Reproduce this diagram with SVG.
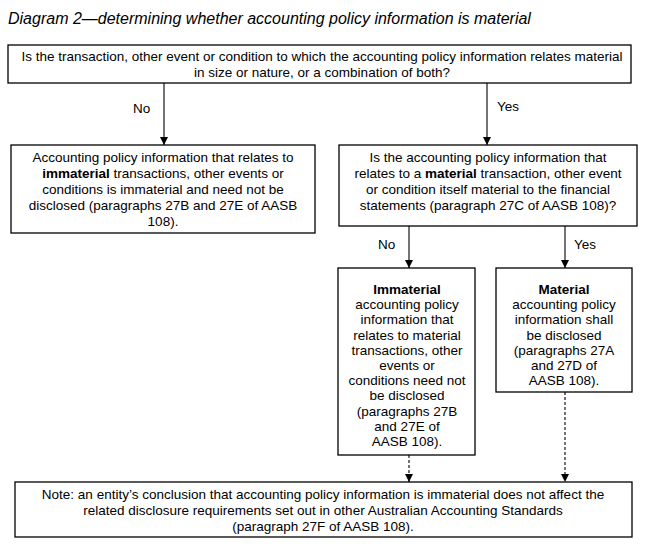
<svg xmlns="http://www.w3.org/2000/svg" width="654" height="544" viewBox="0 0 654 544">
<defs>
<style>
text{font-family:"Liberation Sans",Arial,sans-serif;font-size:13.5px;fill:#000}
.c{text-anchor:middle}
.b{font-weight:bold}
.title{font-size:16px;font-style:italic}
.box{fill:#fff;stroke:#000;stroke-width:1.3}
.ln{stroke:#000;stroke-width:1.1;fill:none}
.dl{stroke:#000;stroke-width:1.1;fill:none;stroke-dasharray:3 2}
</style>
<marker id="ah" viewBox="0 0 10 10" refX="10" refY="5" markerWidth="8" markerHeight="9" markerUnits="userSpaceOnUse" orient="auto">
<path d="M0,0 L10,5 L0,10 z" fill="#000"/>
</marker>
</defs>
<rect width="654" height="544" fill="#fff"/>
<text x="8" y="24" class="title">Diagram 2—determining whether accounting policy information is material</text>

<g id="connectors">
<line class="ln" x1="164" y1="83" x2="164" y2="145" marker-end="url(#ah)"/>
<line class="ln" x1="487" y1="83" x2="487" y2="145" marker-end="url(#ah)"/>
<line class="ln" x1="409" y1="226" x2="409" y2="268" marker-end="url(#ah)"/>
<line class="ln" x1="565" y1="226" x2="565" y2="268" marker-end="url(#ah)"/>
<line class="dl" x1="409" y1="455" x2="409" y2="482" marker-end="url(#ah)"/>
<line class="dl" x1="565" y1="392" x2="565" y2="482" marker-end="url(#ah)"/>
<text x="133" y="113">No</text>
<text x="497" y="111">Yes</text>
<text x="378" y="249">No</text>
<text x="574" y="249">Yes</text>
</g>

<g id="q1">
<rect class="box" x="8" y="45" width="623" height="38"/>
<text class="c" x="322" y="61">Is the transaction, other event or condition to which the accounting policy information relates material</text>
<text class="c" x="322" y="77">in size or nature, or a combination of both?</text>
</g>

<g id="immaterial-transactions">
<rect class="box" x="11" y="145" width="304" height="88"/>
<text class="c" x="163" y="162">Accounting policy information that relates to</text>
<text class="c" x="163" y="178"><tspan class="b">immaterial</tspan> transactions, other events or</text>
<text class="c" x="163" y="194">conditions is immaterial and need not be</text>
<text class="c" x="163" y="210">disclosed (paragraphs 27B and 27E of AASB</text>
<text class="c" x="163" y="226">108).</text>
</g>

<g id="q2">
<rect class="box" x="339" y="145" width="298" height="81"/>
<text class="c" x="488" y="162">Is the accounting policy information that</text>
<text class="c" x="488" y="178">relates to a <tspan class="b">material</tspan> transaction, other event</text>
<text class="c" x="488" y="194">or condition itself material to the financial</text>
<text class="c" x="488" y="210">statements (paragraph 27C of AASB 108)?</text>
</g>

<g id="immaterial">
<rect class="box" x="338" y="268" width="137" height="187"/>
<text class="c b" x="407" y="294">Immaterial</text>
<text class="c" x="407" y="309.2">accounting policy</text>
<text class="c" x="407" y="324.4">information that</text>
<text class="c" x="407" y="339.6">relates to material</text>
<text class="c" x="407" y="354.8">transactions, other</text>
<text class="c" x="407" y="370">events or</text>
<text class="c" x="407" y="385.2">conditions need not</text>
<text class="c" x="407" y="400.4">be disclosed</text>
<text class="c" x="407" y="415.6">(paragraphs 27B</text>
<text class="c" x="407" y="430.8">and 27E of</text>
<text class="c" x="407" y="446">AASB 108).</text>
</g>

<g id="material">
<rect class="box" x="496" y="268" width="136" height="124"/>
<text class="c b" x="564" y="294">Material</text>
<text class="c" x="564" y="309.2">accounting policy</text>
<text class="c" x="564" y="324.4">information shall</text>
<text class="c" x="564" y="339.6">be disclosed</text>
<text class="c" x="564" y="354.8">(paragraphs 27A</text>
<text class="c" x="564" y="370">and 27D of</text>
<text class="c" x="564" y="385.2">AASB 108).</text>
</g>

<g id="note">
<rect class="box" x="15" y="482" width="617" height="55"/>
<text class="c" x="323" y="499">Note: an entity’s conclusion that accounting policy information is immaterial does not affect the</text>
<text class="c" x="323" y="515">related disclosure requirements set out in other Australian Accounting Standards</text>
<text class="c" x="323" y="531">(paragraph 27F of AASB 108).</text>
</g>
</svg>
